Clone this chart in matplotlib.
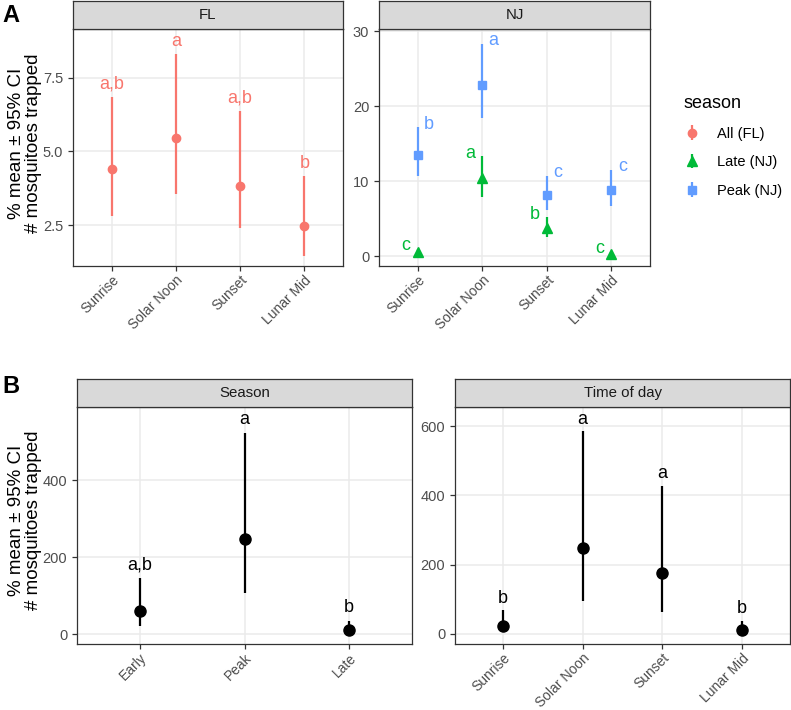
import matplotlib
matplotlib.use('Agg')
import matplotlib.pyplot as plt
import numpy as np

plt.rcParams['font.family'] = ['Liberation Sans', 'DejaVu Sans']

# panel A data
times = ['Sunrise', 'Solar Noon', 'Sunset', 'Lunar Mid']
fl_mean = [4.39, 5.44, 3.84, 2.47]
fl_low = [2.81, 3.56, 2.42, 1.47]
fl_high = [6.85, 8.29, 6.38, 4.18]
fl_letters = ['a,b', 'a', 'a,b', 'b']

peak_mean = [13.5, 22.8, 8.1, 8.8]
peak_low = [10.7, 18.4, 6.1, 6.7]
peak_high = [17.2, 28.3, 10.7, 11.5]
peak_letters = ['b', 'a', 'c', 'c']

late_mean = [0.58, 10.4, 3.7, 0.27]
late_low = [0.3, 7.9, 2.5, 0.1]
late_high = [0.95, 13.3, 5.2, 0.55]
late_letters = ['c', 'a', 'b', 'c']

# panel B data
seasons = ['Early', 'Peak', 'Late']
season_mean = [60, 248, 12]
season_low = [22, 108, 4]
season_high = [146, 524, 35]
season_letters = ['a,b', 'a', 'b']

tod_mean = [22, 248, 175, 11]
tod_low = [6, 95, 64, 3]
tod_high = [68, 586, 428, 37]
tod_letters = ['b', 'a', 'a', 'b']

col_fl = '#F8766D'
col_late = '#00BA38'
col_peak = '#619CFF'

W, H = 791, 710
fig = plt.figure(figsize=(W / 100, H / 100), dpi=100)


def px_axes(left, right, top, bottom):
    return fig.add_axes([left / W, 1 - bottom / H, (right - left) / W, (bottom - top) / H])


def style(ax, cats):
    ax.set_facecolor('white')
    for s in ax.spines.values():
        s.set_color('#333333')
        s.set_linewidth(0.9)
    ax.grid(True, color='#EBEBEB', linewidth=1.1)
    ax.set_axisbelow(True)
    ax.set_xticks(range(1, len(cats) + 1))
    ax.set_xticklabels(cats, rotation=45, ha='right', va='top', rotation_mode='anchor')
    ax.set_xlim(0.4, len(cats) + 0.6)
    ax.tick_params(colors='#333333', labelcolor='#4D4D4D', labelsize=10.5, length=3.5, width=0.9)
    ax.tick_params(axis='x', pad=1.5, labelsize=10)


def strip(left, right, top, bottom, label):
    s = px_axes(left, right, top, bottom)
    s.set_facecolor('#D9D9D9')
    s.set_xticks([])
    s.set_yticks([])
    for sp in s.spines.values():
        sp.set_color('#333333')
        sp.set_linewidth(0.9)
    s.text(0.5, 0.5, label, ha='center', va='center', fontsize=10.8, color='#1A1A1A', transform=s.transAxes)


def errs(mean, low, high):
    m = np.array(mean)
    return [m - np.array(low), np.array(high) - m]


x4 = np.arange(1, 5)
x3 = np.arange(1, 4)

# ---- A: FL
ax1 = px_axes(73, 343, 29, 266)
strip(73, 343, 1, 29, 'FL')
style(ax1, times)
h_fl = ax1.errorbar(x4, fl_mean, yerr=errs(fl_mean, fl_low, fl_high), fmt='o', color=col_fl,
                    ms=6, elinewidth=1.6, capsize=0)
for x, y, t in zip(x4, fl_high, fl_letters):
    ax1.text(x, y + 0.42, t, ha='center', va='center', color=col_fl, fontsize=13)
ax1.set_ylim(1.12, 9.15)
ax1.set_yticks([2.5, 5.0, 7.5])
ax1.set_yticklabels(['2.5', '5.0', '7.5'])

# ---- A: NJ
ax2 = px_axes(379, 650, 29, 266)
strip(379, 650, 1, 29, 'NJ')
style(ax2, times)
h_late = ax2.errorbar(x4, late_mean, yerr=errs(late_mean, late_low, late_high), fmt='^', color=col_late,
                      ms=7, elinewidth=1.6, capsize=0)
h_peak = ax2.errorbar(x4, peak_mean, yerr=errs(peak_mean, peak_low, peak_high), fmt='s', color=col_peak,
                      ms=6, elinewidth=1.6, capsize=0)
for x, y, t in zip(x4, peak_high, peak_letters):
    ax2.text(x + 0.17, y + 0.4, t, ha='center', va='center', color=col_peak, fontsize=13)
for x, y, t in zip(x4, late_high, late_letters):
    ax2.text(x - 0.18, y + 0.4, t, ha='center', va='center', color=col_late, fontsize=13)
ax2.set_ylim(-1.33, 30.3)
ax2.set_yticks([0, 10, 20, 30])

fig.legend([h_fl, h_late, h_peak], ['All (FL)', 'Late (NJ)', 'Peak (NJ)'], title='season',
           loc='upper left', bbox_to_anchor=(670 / W, 1 - 82 / H), frameon=False,
           fontsize=10.5, title_fontsize=13, handlelength=1.2, handletextpad=1.1,
           labelspacing=1.0, alignment='left')

# ---- B: Season
ax3 = px_axes(77, 412, 407, 644)
strip(77, 412, 379, 407, 'Season')
style(ax3, seasons)
ax3.errorbar(x3, season_mean, yerr=errs(season_mean, season_low, season_high), fmt='o', color='black',
             ms=8, elinewidth=1.6, capsize=0)
for x, y, t in zip(x3, season_high, season_letters):
    ax3.text(x, y + 35, t, ha='center', va='center', color='black', fontsize=13)
ax3.set_ylim(-25, 591)
ax3.set_yticks([0, 200, 400])

# ---- B: Time of day
ax4 = px_axes(455, 790, 407, 644)
strip(455, 790, 379, 407, 'Time of day')
style(ax4, times)
ax4.errorbar(x4, tod_mean, yerr=errs(tod_mean, tod_low, tod_high), fmt='o', color='black',
             ms=8, elinewidth=1.6, capsize=0)
for x, y, t in zip(x4, tod_high, tod_letters):
    ax4.text(x, y + 35, t, ha='center', va='center', color='black', fontsize=13)
ax4.set_ylim(-30, 656)
ax4.set_yticks([0, 200, 400, 600])

ylab = '% mean \u00b1 95% CI\n# mosquitoes trapped'
fig.text(25 / W, 1 - 143 / H, ylab, rotation=90, ha='center', va='center', fontsize=13.5, linespacing=1.0)
fig.text(25 / W, 1 - 520 / H, ylab, rotation=90, ha='center', va='center', fontsize=13.5, linespacing=1.0)
fig.text(2 / W, 1 - 15 / H, 'A', fontsize=17, fontweight='bold', va='center', ha='left')
fig.text(2 / W, 1 - 386 / H, 'B', fontsize=17, fontweight='bold', va='center', ha='left')

fig.savefig('out.png', dpi=100)
